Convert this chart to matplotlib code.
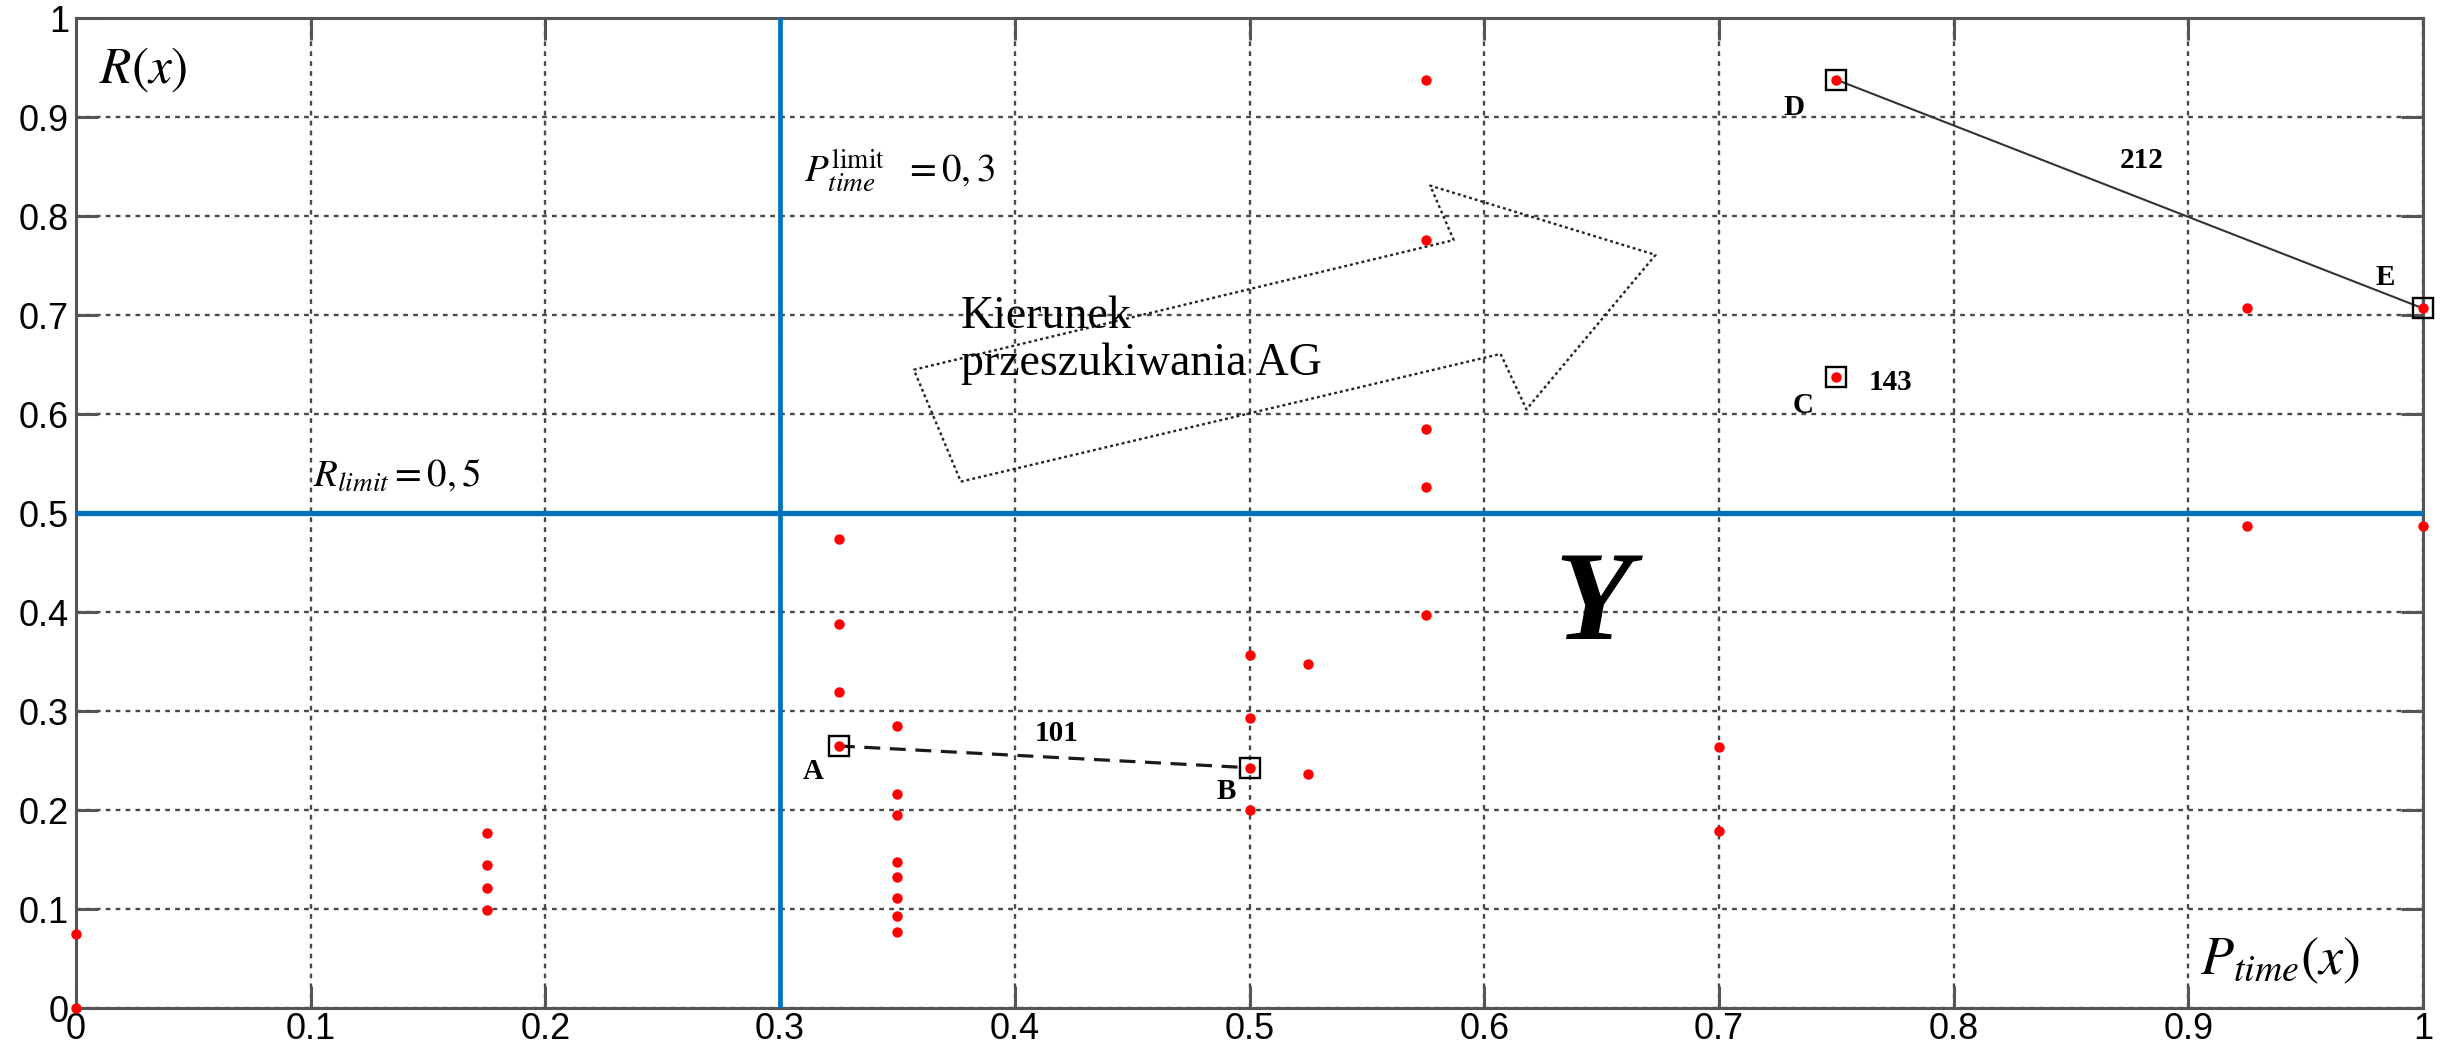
import matplotlib
matplotlib.use("Agg")
import matplotlib.pyplot as plt

# ---------------- data ----------------
px = [0.0, 0.0,
      0.175, 0.175, 0.175, 0.175,
      0.325, 0.325, 0.325, 0.325,
      0.35, 0.35, 0.35, 0.35, 0.35, 0.35, 0.35, 0.35,
      0.5, 0.5, 0.5, 0.5,
      0.525, 0.525,
      0.575, 0.575, 0.575, 0.575, 0.575,
      0.7, 0.7,
      0.75, 0.75,
      0.925, 0.925,
      1.0, 1.0]
py = [0.0, 0.075,
      0.177, 0.145, 0.122, 0.099,
      0.474, 0.388, 0.32, 0.265,
      0.285, 0.216, 0.195, 0.148, 0.133, 0.111, 0.093, 0.077,
      0.357, 0.293, 0.243, 0.2,
      0.348, 0.237,
      0.938, 0.776, 0.585, 0.527, 0.397,
      0.264, 0.179,
      0.938, 0.638,
      0.707, 0.487,
      0.707, 0.487]

sel_names = ["A", "B", "C", "D", "E"]
sel_x = [0.325, 0.5, 0.75, 0.75, 1.0]
sel_y = [0.265, 0.243, 0.638, 0.938, 0.707]

p_limit = 0.3
r_limit = 0.5

xticks = [0, 0.1, 0.2, 0.3, 0.4, 0.5, 0.6, 0.7, 0.8, 0.9, 1]
xticklabels = ["0", "0.1", "0.2", "0.3", "0.4", "0.5", "0.6", "0.7", "0.8", "0.9", "1"]
yticks = xticks
yticklabels = xticklabels

# search-direction arrow outline (data coords)
arrow_x = [0.377, 0.607, 0.618, 0.673, 0.577, 0.587, 0.357, 0.377]
arrow_y = [0.532, 0.661, 0.605, 0.761, 0.831, 0.776, 0.645, 0.532]

# ---------------- figure ----------------
plt.rcParams['mathtext.fontset'] = 'stix'
plt.rcParams['font.family'] = ['Liberation Sans', 'DejaVu Sans']
fig = plt.figure(figsize=(24.51, 10.45), dpi=100)
ax = fig.add_axes([76/2451, 1-1008.3/1045, (2423-76)/2451, (1008.3-18.3)/1045])
ax.set_xlim(0, 1)
ax.set_ylim(0, 1)

grid_col = '#484848'
ax.set_xticks(xticks)
ax.set_xticklabels(xticklabels)
ax.set_yticks(yticks)
ax.set_yticklabels(yticklabels)
ax.tick_params(direction='in', length=16, width=2.2, color='#555555',
               top=True, right=True, labelsize=26)
ax.tick_params(axis='x', pad=3)
ax.tick_params(axis='y', pad=5)
for s in ax.spines.values():
    s.set_color('#555555')
    s.set_linewidth(2.2)

ax.grid(True, color=grid_col, linestyle=(0, (2.0, 2.2)), linewidth=1.7)
ax.set_axisbelow(True)

blue = '#0072BD'
ax.axvline(p_limit, color=blue, lw=3.4, zorder=3)
ax.axhline(r_limit, color=blue, lw=3.8, zorder=3)

# arrow
ax.plot(arrow_x, arrow_y, color='#222222', lw=1.7, linestyle=(0, (1.2, 1.3)), zorder=3)

# connections
ax.plot([sel_x[0], sel_x[1]], [sel_y[0], sel_y[1]], color='#1a1a1a', lw=2.3,
        linestyle=(0, (5, 3)), zorder=4)
ax.plot([sel_x[3], sel_x[4]], [sel_y[3], sel_y[4]], color='#333333', lw=1.5, zorder=4)

# squares
ax.plot(sel_x, sel_y, linestyle='none', marker='s', markersize=15, mfc='none',
        mec='black', mew=1.7, zorder=6, clip_on=False)
# points
ax.plot(px, py, linestyle='none', marker='o', markersize=7.5, color='red',
        mec='none', zorder=7, clip_on=False)

# texts
ax.text(0.010, 0.935, r'$R(x)$', fontsize=37, ha='left', va='baseline')
ax.text(0.310, 0.834, r'$P_{time}^{\mathrm{limit}}\ \ \mathrm{=0,3}$', fontsize=28,
        ha='left', va='baseline')
ax.text(0.101, 0.528, r'$R_{limit}\mathrm{=0,5}$', fontsize=28, ha='left', va='baseline')
ax.text(0.377, 0.687, 'Kierunek', family='Liberation Serif', fontsize=33,
        ha='left', va='baseline')
ax.text(0.377, 0.640, 'przeszukiwania AG', family='Liberation Serif', fontsize=33,
        ha='left', va='baseline')
ax.text(0.630, 0.373, 'Y', family='Liberation Serif', fontsize=92, fontweight='bold',
        style='italic', ha='left', va='baseline')
ax.text(0.905, 0.034, r'$P_{time}(x)$', fontsize=39, ha='left', va='baseline')

lbl_kw = dict(family='Liberation Serif', fontsize=21, fontweight='bold',
              ha='center', va='center', zorder=8)
label_pos = {"A": (0.314, 0.239), "B": (0.490, 0.219), "C": (0.736, 0.609),
             "D": (0.732, 0.910), "E": (0.984, 0.738)}
for n in sel_names:
    ax.text(*label_pos[n], n, **lbl_kw)
ax.text(0.418, 0.278, '101', **lbl_kw)
ax.text(0.773, 0.632, '143', **lbl_kw)
ax.text(0.880, 0.856, '212', **lbl_kw)

fig.savefig('out.png', dpi=100)
